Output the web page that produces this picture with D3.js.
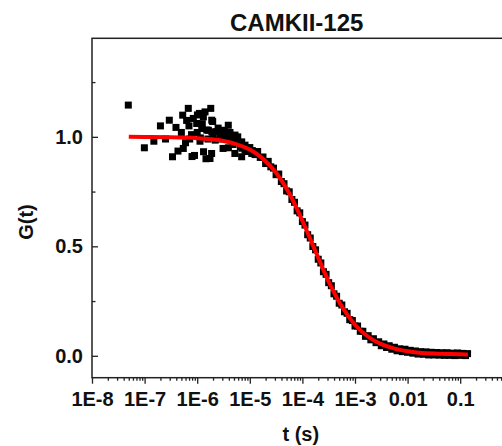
<!DOCTYPE html>
<html>
<head>
<meta charset="utf-8">
<script src="https://cdnjs.cloudflare.com/ajax/libs/d3/7.8.5/d3.min.js"></script>
<style>
  html, body { margin: 0; padding: 0; background: #fff; }
  svg { display: block; }
  text { font-family: "Liberation Sans", Arial, sans-serif; font-weight: bold; fill: #111; }
</style>
</head>
<body>
<div id="chart"></div>
<script>
// measured points (t in s, G(t))
var dataT = [
  4.9e-8, 9.9e-8, 1.5e-7, 2.0e-7, 2.5e-7, 2.95e-7, 3.39e-7, 3.95e-7, 4.31e-7, 5.3e-7,
  5.44e-7, 6.0e-7, 6.77e-7, 6.98e-7, 7.8e-7, 7.97e-7, 8.43e-7, 8.89e-7, 9.78e-7, 1.01e-6,
  1.10e-6, 1.13e-6, 1.22e-6, 1.31e-6, 1.32e-6, 1.41e-6, 1.47e-6, 1.52e-6, 1.63e-6, 1.75e-6,
  1.81e-6, 1.89e-6, 1.9e-6, 1.88e-6, 1.97e-6, 2.35e-6, 2.71e-6, 3.13e-6, 3.1e-6, 3.64e-6,
  3.90e-6, 3.92e-6, 4.53e-6, 5.23e-6, 5.2e-6, 5.64e-6, 7.02e-6, 7.0e-6, 8.11e-6, 8.1e-6,
  1.09e-5, 5.0e-7, 6.3e-7, 7.2e-7, 1.0e-6, 1.15e-6, 1.25e-6, 1.6e-6, 2.0e-6, 2.2e-6,
  2.5e-6, 2.9e-6, 3.3e-6, 4.2e-6, 4.8e-6, 5.9e-6, 6.6e-6, 9.5e-6,
  6.3e-6, 7.1e-6, 7.9e-6, 8.9e-6, 1.0e-5, 1.12e-5, 1.26e-5, 1.41e-5, 1.58e-5, 1.78e-5,
  2.0e-5, 2.24e-5, 2.51e-5, 2.82e-5, 3.16e-5, 3.55e-5, 3.98e-5, 4.47e-5, 5.01e-5, 5.62e-5,
  6.31e-5, 7.08e-5, 7.94e-5, 8.91e-5, 1.0e-4, 1.12e-4, 1.26e-4, 1.41e-4, 1.58e-4, 1.78e-4,
  2.0e-4, 2.24e-4, 2.51e-4, 2.82e-4, 3.16e-4, 3.55e-4, 3.98e-4, 4.47e-4, 5.01e-4, 5.62e-4,
  6.31e-4, 7.08e-4, 7.94e-4, 8.91e-4, 1.0e-3, 1.12e-3, 1.26e-3, 1.41e-3, 1.58e-3, 1.78e-3,
  2.0e-3, 2.24e-3, 2.51e-3, 2.82e-3, 3.16e-3, 3.55e-3, 3.98e-3, 4.47e-3, 5.01e-3, 5.62e-3,
  6.31e-3, 7.08e-3, 7.94e-3, 8.91e-3, 1.0e-2, 1.12e-2, 1.26e-2, 1.41e-2, 1.58e-2, 1.78e-2,
  2.0e-2, 2.24e-2, 2.51e-2, 2.82e-2, 3.16e-2, 3.55e-2, 3.98e-2, 4.47e-2, 5.01e-2, 5.62e-2,
  6.31e-2, 7.08e-2, 7.94e-2, 8.91e-2, 0.100, 0.112, 0.126, 0.138
];
var dataG = [
  1.145, 0.950, 0.980, 1.050, 0.990, 1.076, 0.909, 1.043, 0.935, 1.099,
  0.947, 0.973, 1.130, 1.050, 1.010, 0.910, 1.084, 0.915, 1.061, 1.100,
  1.107, 0.980, 1.038, 1.091, 0.932, 1.114, 0.900, 1.031, 1.030, 0.901,
  1.130, 1.076, 1.023, 0.924, 1.070, 1.023, 1.008, 1.016, 0.947, 1.000,
  1.053, 0.950, 0.993, 1.008, 0.924, 0.977, 0.977, 0.909, 0.962, 0.939,
  0.924, 1.020, 1.075, 0.990, 1.020, 0.995, 1.060, 0.990, 1.000, 0.985,
  1.040, 0.990, 1.030, 1.020, 0.965, 1.000, 0.955, 0.945,
  0.974, 0.948, 0.957, 0.933, 0.951, 0.937, 0.919, 0.933, 0.906, 0.908,
  0.878, 0.888, 0.863, 0.857, 0.827, 0.830, 0.796, 0.786, 0.753, 0.749,
  0.714, 0.701, 0.662, 0.653, 0.613, 0.597, 0.553, 0.538, 0.499, 0.484,
  0.441, 0.424, 0.384, 0.372, 0.334, 0.320, 0.283, 0.272, 0.240, 0.232,
  0.201, 0.194, 0.165, 0.161, 0.136, 0.136, 0.112, 0.112, 0.089, 0.092,
  0.073, 0.078, 0.060, 0.064, 0.046, 0.054, 0.038, 0.046, 0.030, 0.039,
  0.023, 0.032, 0.019, 0.030, 0.016, 0.025, 0.012, 0.022, 0.008, 0.019,
  0.007, 0.018, 0.004, 0.016, 0.004, 0.015, 0.003, 0.014, 0.002, 0.014,
  0.002, 0.012, 0.001, 0.013, 0.002, 0.011, 0.001, 0.010
];

// fitted curve
var fitT = [5e-8, 1e-7, 3.16e-7, 1e-6, 1.78e-6, 3.16e-6, 5.62e-6, 1e-5, 1.78e-5, 3.16e-5,
  5.62e-5, 1e-4, 1.78e-4, 3.16e-4, 5.62e-4, 1e-3, 1.78e-3, 3.16e-3, 5.62e-3, 1e-2,
  3.16e-2, 0.1, 0.14];
var fitG = [1.000, 0.999, 0.998, 0.994, 0.989, 0.981, 0.966, 0.942, 0.900, 0.836,
  0.742, 0.617, 0.476, 0.339, 0.225, 0.142, 0.087, 0.053, 0.033, 0.021,
  0.010, 0.007, 0.006];

var xTickValues = [1e-8, 1e-7, 1e-6, 1e-5, 1e-4, 1e-3, 0.01, 0.1];
var xTickLabels = ["1E-8", "1E-7", "1E-6", "1E-5", "1E-4", "1E-3", "0.01", "0.1"];
var yTickValues = [0, 0.5, 1.0];
var yTickLabels = ["0.0", "0.5", "1.0"];
var yMinorValues = [0.25, 0.75, 1.25];

var width = 502, height = 446;
var margin = {left: 92, top: 38.3, bottom: 377.7, right: 512.8};

var svg = d3.select('#chart').append('svg')
  .attr('xmlns', 'http://www.w3.org/2000/svg')
  .attr('width', width)
  .attr('height', height);

var x = d3.scaleLog().domain([1e-8, 1]).range([margin.left, margin.right]);
var y = d3.scaleLinear().domain([-0.1, 1.45]).range([margin.bottom, margin.top]);

// minor x ticks 2..9 in each decade
var xMinor = [];
xTickValues.forEach(function(d) {
  for (var k = 2; k < 10; k++) xMinor.push(d * k);
});

// frame
svg.append('rect')
  .attr('x', margin.left)
  .attr('y', margin.top)
  .attr('width', margin.right - margin.left)
  .attr('height', margin.bottom - margin.top)
  .attr('fill', 'none')
  .attr('stroke', '#222')
  .attr('stroke-width', 1.5);

// x axis
var gx = svg.append('g').attr('transform', 'translate(0,' + margin.bottom + ')');
gx.call(d3.axisBottom(x).tickValues(xTickValues)
  .tickFormat(function(d, i) { return xTickLabels[i]; })
  .tickSizeInner(6).tickSizeOuter(0).tickPadding(8));
gx.append('g').call(d3.axisBottom(x).tickValues(xMinor)
  .tickFormat('').tickSizeInner(3).tickSizeOuter(0));

// y axis, ticks pointing in
var gy = svg.append('g').attr('transform', 'translate(' + margin.left + ',0)');
gy.call(d3.axisLeft(y).tickValues(yTickValues)
  .tickFormat(function(d, i) { return yTickLabels[i]; })
  .tickSizeInner(-6).tickSizeOuter(0).tickPadding(9));
gy.append('g').call(d3.axisLeft(y).tickValues(yMinorValues)
  .tickFormat('').tickSizeInner(-3.5).tickSizeOuter(0));

svg.selectAll('.domain').remove();
svg.selectAll('.tick line').attr('stroke', '#222').attr('stroke-width', 1.3);
svg.selectAll('.tick text')
  .attr('font-family', '"Liberation Sans", Arial, sans-serif')
  .attr('font-weight', 'bold')
  .attr('font-size', 20)
  .attr('fill', '#111');

// scatter
var points = dataT.map(function(t, i) { return {t: t, g: dataG[i]}; });
svg.append('g').selectAll('rect').data(points)
  .enter()
  .append('rect')
  .attr('x', function(d) { return x(d.t) - 3.5; })
  .attr('y', function(d) { return y(d.g) - 3.5; })
  .attr('width', 7)
  .attr('height', 7)
  .attr('fill', '#000');

// fit
var fit = fitT.map(function(t, i) { return {t: t, g: fitG[i]}; });
svg.append('path')
  .datum(fit)
  .attr('d', d3.line()
    .x(function(d) { return x(d.t); })
    .y(function(d) { return y(d.g); })
    .curve(d3.curveMonotoneX))
  .attr('fill', 'none')
  .attr('stroke', '#ff0000')
  .attr('stroke-width', 4);

// titles
svg.append('text')
  .attr('x', 296.7)
  .attr('y', 30.5)
  .attr('text-anchor', 'middle')
  .attr('font-size', 24)
  .text('CAMKII-125');

svg.append('text')
  .attr('x', 300.8)
  .attr('y', 441)
  .attr('text-anchor', 'middle')
  .attr('font-size', 20)
  .text('t (s)');

svg.append('text')
  .attr('transform', 'translate(33,222) rotate(-90)')
  .attr('text-anchor', 'middle')
  .attr('font-size', 20)
  .text('G(t)');
</script>
</body>
</html>
